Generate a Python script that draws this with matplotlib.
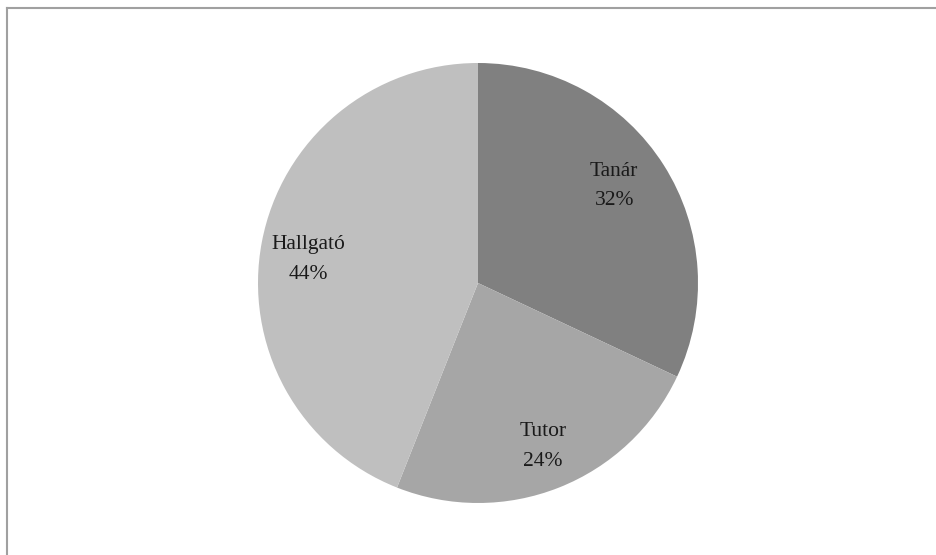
import numpy as np
import matplotlib.pyplot as plt
from matplotlib.lines import Line2D

labels = ["Tanár", "Tutor", "Hallgató"]
values = [32, 24, 44]
colors = ["#808080", "#a6a6a6", "#bfbfbf"]
label_dist = [0.76, 0.80, 0.78]
label_turn = [3, 0, 3]   # degrees, small nudges of the label positions

W, H = 937, 555
fig = plt.figure(figsize=(W / 100, H / 100), dpi=100)

# pie centre ~ (478, 283) px, radius ~ 220 px
cx, cy, r = 478, 283, 220
ax = fig.add_axes([(cx - r) / W, (H - cy - r) / H, 2 * r / W, 2 * r / H])

texts = ["{}\n{}%".format(l, v) for l, v in zip(labels, values)]
wedges, lbls = ax.pie(values, labels=texts, colors=colors, startangle=90,
                      counterclock=False, labeldistance=0.77,
                      wedgeprops=dict(linewidth=0))
for w, t, d, a in zip(wedges, lbls, label_dist, label_turn):
    ang = np.deg2rad((w.theta1 + w.theta2) / 2 + a)
    t.set_position((d * np.cos(ang), d * np.sin(ang)))
    t.set_ha("center")
    t.set_va("center")
    t.set_fontsize(15.5)
    t.set_family("Liberation Serif")
    t.set_color("#1a1a1a")
    t.set_linespacing(1.75)
ax.set_xlim(-1, 1)
ax.set_ylim(-1, 1)
ax.set_aspect("equal")

# frame: top and left edge only
fig.add_artist(Line2D([7.5 / W, 1], [1 - 7.5 / H, 1 - 7.5 / H], color="#a0a0a0", lw=1.5))
fig.add_artist(Line2D([7.5 / W, 7.5 / W], [0, 1 - 7.5 / H], color="#a0a0a0", lw=1.5))

fig.savefig("out.png", dpi=100)
